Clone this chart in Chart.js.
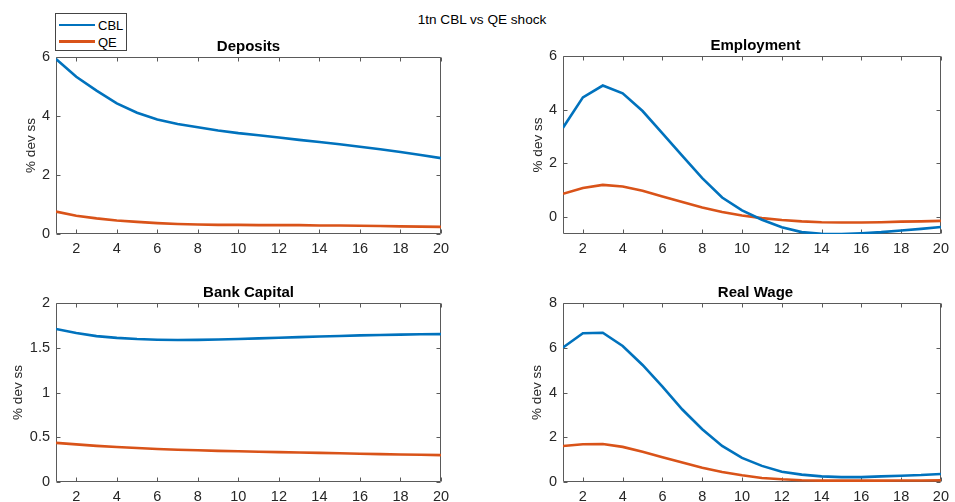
<!DOCTYPE html>
<html>
<head>
<meta charset="utf-8">
<title>1tn CBL vs QE shock</title>
<script src="https://cdn.jsdelivr.net/npm/chart.js@4.4.1/dist/chart.umd.min.js"></script>
<style>
  html, body { margin: 0; padding: 0; background: #fff; }
  #fig { position: relative; width: 955px; height: 502px; overflow: hidden;
         font-family: "Liberation Sans", Arial, Helvetica, sans-serif; }
  #fig canvas { position: absolute; left: 0; top: 0; }
  .txt { position: absolute; white-space: nowrap; line-height: 1; transform: translate(-50%, -50%); }
  .suptitle { font-size: 13.6px; color: #000; }
  .ptitle { font-size: 15px; font-weight: bold; color: #000; }
  #legend { position: absolute; left: 55px; top: 13px; width: 72px; height: 38px;
            box-sizing: border-box; border: 1px solid #444; background: #fff; }
  #legend .sw { position: absolute; left: 3px; width: 36px; height: 2.5px; }
  #legend .lt { position: absolute; left: 42px; font-size: 13px; color: #000; line-height: 1;
                transform: translateY(-50%); }
</style>
</head>
<body>
<div id="fig">
  <div class="txt suptitle" style="left:482px; top:20px;">1tn CBL vs QE shock</div>
</div>
<script>
// Impulse responses, horizon in quarters
const periods = [1, 2, 3, 4, 5, 6, 7, 8, 9, 10, 11, 12, 13, 14, 15, 16, 17, 18, 19, 20];
const xTicks = [2, 4, 6, 8, 10, 12, 14, 16, 18, 20];

const depositsCBL = [5.93, 5.33, 4.86, 4.43, 4.11, 3.88, 3.73, 3.62, 3.51, 3.42, 3.35, 3.27, 3.19, 3.12, 3.04, 2.96, 2.87, 2.78, 2.68, 2.57];
const depositsQE  = [0.76, 0.62, 0.53, 0.46, 0.41, 0.37, 0.34, 0.32, 0.31, 0.31, 0.30, 0.30, 0.30, 0.29, 0.29, 0.28, 0.27, 0.26, 0.25, 0.24];

const employmentCBL = [3.33, 4.46, 4.90, 4.61, 3.95, 3.12, 2.28, 1.45, 0.73, 0.25, -0.10, -0.38, -0.56, -0.62, -0.63, -0.60, -0.56, -0.50, -0.44, -0.37];
const employmentQE  = [0.87, 1.08, 1.20, 1.14, 0.98, 0.77, 0.56, 0.36, 0.19, 0.06, -0.04, -0.11, -0.16, -0.19, -0.20, -0.20, -0.19, -0.17, -0.16, -0.14];

const capitalCBL = [1.71, 1.665, 1.63, 1.61, 1.597, 1.59, 1.587, 1.588, 1.592, 1.598, 1.605, 1.612, 1.619, 1.626, 1.632, 1.638, 1.643, 1.647, 1.650, 1.652];
const capitalQE  = [0.437, 0.42, 0.404, 0.391, 0.38, 0.369, 0.361, 0.354, 0.348, 0.343, 0.338, 0.334, 0.329, 0.325, 0.321, 0.316, 0.312, 0.308, 0.304, 0.300];

const wageCBL = [6.01, 6.65, 6.67, 6.08, 5.23, 4.26, 3.24, 2.36, 1.61, 1.08, 0.72, 0.46, 0.33, 0.25, 0.22, 0.22, 0.25, 0.28, 0.31, 0.36];
const wageQE  = [1.61, 1.69, 1.70, 1.57, 1.35, 1.11, 0.87, 0.64, 0.45, 0.30, 0.18, 0.12, 0.08, 0.06, 0.06, 0.06, 0.06, 0.07, 0.07, 0.08];

const depositsTicks   = [0, 2, 4, 6];
const employmentTicks = [0, 2, 4, 6];
const capitalTicks    = [0, 0.5, 1, 1.5, 2];
const wageTicks       = [0, 2, 4, 6, 8];

const seriesNames = ['CBL', 'QE'];
const seriesColors = ['#0072BD', '#D95319'];

const W = 955, H = 502;
const FONT = '"Liberation Sans", Arial, Helvetica, sans-serif';
const TEXT_COLOR = '#262626';
const AXIS_COLOR = '#5a5a5a';

// axes box with inward tick marks on all four sides
const axesBox = {
  id: 'axesBox',
  beforeDatasetsDraw(chart) {
    const { ctx, chartArea: a, scales: { x, y } } = chart;
    const L = Math.round(a.left) + 0.5, R = Math.round(a.right) - 0.5;
    const T = Math.round(a.top) + 0.5, B = Math.round(a.bottom) - 0.5;
    const len = 4;
    ctx.save();
    ctx.strokeStyle = AXIS_COLOR;
    ctx.lineWidth = 1;
    ctx.beginPath();
    ctx.rect(L, T, R - L, B - T);
    x.ticks.forEach(t => {
      const px = Math.round(x.getPixelForValue(t.value)) + 0.5;
      ctx.moveTo(px, B); ctx.lineTo(px, B - len);
      ctx.moveTo(px, T); ctx.lineTo(px, T + len);
    });
    y.ticks.forEach(t => {
      const py = Math.round(y.getPixelForValue(t.value)) + 0.5;
      ctx.moveTo(L, py); ctx.lineTo(L + len, py);
      ctx.moveTo(R, py); ctx.lineTo(R - len, py);
    });
    ctx.stroke();
    ctx.restore();
  }
};

const panels = [
  { title: 'Deposits',     cbl: depositsCBL,   qe: depositsQE,   ticks: depositsTicks,   yMin: 0,     yMax: 6, area: { L: 56,  T: 57,  R: 441, B: 234 }, labelX: 31 },
  { title: 'Employment',   cbl: employmentCBL, qe: employmentQE, ticks: employmentTicks, yMin: -0.63, yMax: 6, area: { L: 563, T: 56,  R: 948, B: 234 }, labelX: 538 },
  { title: 'Bank Capital', cbl: capitalCBL,    qe: capitalQE,    ticks: capitalTicks,    yMin: 0,     yMax: 2, area: { L: 56,  T: 303, R: 441, B: 482 }, labelX: 18.5 },
  { title: 'Real Wage',    cbl: wageCBL,       qe: wageQE,       ticks: wageTicks,       yMin: 0,     yMax: 8, area: { L: 563, T: 303, R: 948, B: 482 }, labelX: 537.5 }
];

const fig = document.getElementById('fig');
const toXY = vals => vals.map((v, i) => ({ x: periods[i], y: v }));

panels.forEach(p => {
  const canvas = document.createElement('canvas');
  canvas.width = W; canvas.height = H;
  canvas.style.width = W + 'px'; canvas.style.height = H + 'px';
  fig.appendChild(canvas);

  const yW = 50, xH = 20;
  const labelSize = 13.5;
  const labelLine = labelSize * 1.2;
  const a = p.area;

  new Chart(canvas, {
    type: 'line',
    data: {
      datasets: [p.cbl, p.qe].map((vals, k) => ({
        label: seriesNames[k],
        data: toXY(vals),
        borderColor: seriesColors[k],
        backgroundColor: seriesColors[k],
        borderWidth: 2.6,
        pointRadius: 0,
        tension: 0,
        fill: false
      }))
    },
    options: {
      responsive: false,
      animation: false,
      devicePixelRatio: 1,
      events: [],
      layout: {
        autoPadding: false,
        padding: { left: a.L - yW, top: a.T, right: W - a.R, bottom: H - a.B - xH }
      },
      plugins: { legend: { display: false }, tooltip: { enabled: false }, title: { display: false } },
      scales: {
        x: {
          type: 'linear', min: 1, max: 20,
          afterFit(s) { s.height = xH; },
          afterBuildTicks(s) { s.ticks = xTicks.map(v => ({ value: v })); },
          grid: { display: false, drawTicks: false },
          border: { display: false },
          ticks: { padding: 6, autoSkip: false, maxRotation: 0, color: TEXT_COLOR,
                   font: { family: FONT, size: 14.5 }, callback: v => String(v) }
        },
        y: {
          type: 'linear', min: p.yMin, max: p.yMax,
          afterFit(s) { s.width = yW; },
          afterBuildTicks(s) { s.ticks = p.ticks.map(v => ({ value: v })); },
          grid: { display: false, drawTicks: false },
          border: { display: false },
          ticks: { padding: 6, autoSkip: false, color: TEXT_COLOR,
                   font: { family: FONT, size: 14.5 }, callback: v => String(v) },
          title: {
            display: true, text: '% dev ss', color: TEXT_COLOR,
            font: { family: FONT, size: labelSize, lineHeight: 1.2 },
            padding: { top: p.labelX - (a.L - yW) - labelLine / 2, bottom: 0 }
          }
        }
      }
    },
    plugins: [axesBox]
  });

  const t = document.createElement('div');
  t.className = 'txt ptitle';
  t.style.left = ((a.L + a.R) / 2) + 'px';
  t.style.top = (a.T - 12) + 'px';
  t.textContent = p.title;
  fig.appendChild(t);
});

// series key, upper-left corner of the figure
const legend = document.createElement('div');
legend.id = 'legend';
seriesNames.forEach((name, k) => {
  const cy = k === 0 ? 11 : 27.5;
  const sw = document.createElement('div');
  sw.className = 'sw';
  sw.style.top = (cy - 1.25) + 'px';
  sw.style.background = seriesColors[k];
  const lt = document.createElement('div');
  lt.className = 'lt';
  lt.style.top = cy + 'px';
  lt.textContent = name;
  legend.appendChild(sw);
  legend.appendChild(lt);
});
fig.appendChild(legend);
</script>
</body>
</html>
